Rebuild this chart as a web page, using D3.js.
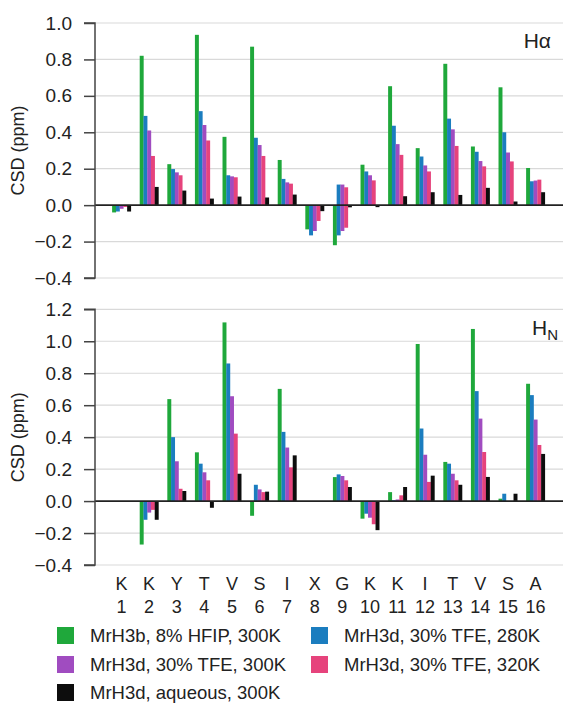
<!DOCTYPE html>
<html>
<head>
<meta charset="utf-8">
<script src="https://cdn.jsdelivr.net/npm/d3@7"></script>
<style>
  html, body { margin: 0; padding: 0; background: #fff; }
  svg { display: block; font-family: "Liberation Sans", Arial, Helvetica, sans-serif; }
</style>
</head>
<body>
<svg id="chart" width="563" height="704"></svg>
<script>
// Residues of the peptide
const residues = ["K", "K", "Y", "T", "V", "S", "I", "X", "G", "K", "K", "I", "T", "V", "S", "A"];
const positions = d3.range(1, 17);

// Sample conditions (one bar per condition in every residue group)
const seriesNames = [
  "MrH3b, 8% HFIP, 300K",
  "MrH3d, 30% TFE, 280K",
  "MrH3d, 30% TFE, 300K",
  "MrH3d, 30% TFE, 320K",
  "MrH3d, aqueous, 300K"
];
const seriesColors = ["#1fa83b", "#1b7dbf", "#a04cc0", "#e6437c", "#0d0d0d"];

// Hα chemical shift deviations (ppm)
const haHfip300 = [-0.04, 0.82, 0.225, 0.935, 0.375, 0.87, 0.248, -0.133, -0.22, 0.222, 0.653, 0.313, 0.776, 0.322, 0.647, 0.204];
const haTfe280  = [-0.035, 0.49, 0.198, 0.516, 0.164, 0.37, 0.144, -0.166, 0.113, 0.185, 0.436, 0.267, 0.475, 0.293, 0.40, 0.131];
const haTfe300  = [-0.02, 0.41, 0.18, 0.44, 0.158, 0.33, 0.125, -0.142, 0.113, 0.164, 0.335, 0.218, 0.416, 0.242, 0.289, 0.135];
const haTfe320  = [-0.01, 0.27, 0.164, 0.355, 0.153, 0.27, 0.118, -0.087, 0.098, 0.136, 0.276, 0.185, 0.325, 0.213, 0.24, 0.14];
const haAq300   = [-0.035, 0.10, 0.08, 0.036, 0.047, 0.042, 0.058, -0.033, -0.012, -0.011, 0.049, 0.071, 0.056, 0.095, 0.02, 0.071];

// Second Hα of Gly 9 (glycine carries two α protons)
const glyHa2 = [null, -0.166, -0.142, -0.124, null];

// HN chemical shift deviations (ppm); null = no amide signal
const hnHfip300 = [null, -0.272, 0.638, 0.305, 1.118, -0.092, 0.702, null, 0.15, -0.11, 0.056, 0.983, 0.245, 1.077, 0.015, 0.734];
const hnTfe280  = [null, -0.117, 0.40, 0.234, 0.861, 0.102, 0.433, null, 0.167, -0.079, 0.005, 0.454, 0.234, 0.688, 0.046, 0.663];
const hnTfe300  = [null, -0.072, 0.249, 0.18, 0.656, 0.073, 0.335, null, 0.157, -0.104, 0.01, 0.29, 0.171, 0.516, 0, 0.51];
const hnTfe320  = [null, -0.055, 0.077, 0.13, 0.422, 0.056, 0.211, null, 0.13, -0.145, 0.036, 0.12, 0.13, 0.307, 0, 0.351];
const hnAq300   = [null, -0.117, 0.063, -0.042, 0.171, 0.059, 0.286, null, 0.088, -0.182, 0.088, 0.159, 0.102, 0.151, 0.046, 0.295];

const haTicks = [-0.4, -0.2, 0.0, 0.2, 0.4, 0.6, 0.8, 1.0];
const hnTicks = [-0.4, -0.2, 0.0, 0.2, 0.4, 0.6, 0.8, 1.0, 1.2];

const haSeries = [haHfip300, haTfe280, haTfe300, haTfe320, haAq300];
const hnSeries = [hnHfip300, hnTfe280, hnTfe300, hnTfe320, hnAq300];

const svg = d3.select("#chart");
const axisX = 95;
const rightEdge = 563;

const x = d3.scaleBand()
  .domain(positions)
  .range([107.7, 549.3])
  .paddingInner(0.32)
  .paddingOuter(0.16);

const xs = d3.scaleBand()
  .domain(d3.range(seriesNames.length))
  .range([0, x.bandwidth()]);

function panel(values, ticks, domain, range, extra) {
  const y = d3.scaleLinear().domain(domain).range(range);
  const g = svg.append("g");

  // horizontal grid
  g.append("g").selectAll("line").data(ticks.filter(t => t !== 0)).join("line")
    .attr("x1", axisX).attr("x2", rightEdge)
    .attr("y1", d => y(d)).attr("y2", d => y(d))
    .attr("stroke", "#d9d9d9").attr("stroke-width", 1.2);

  // bars
  const rows = [];
  values.forEach((arr, si) => arr.forEach((v, i) => {
    if (v !== null) rows.push({ s: si, p: positions[i], v });
  }));
  if (extra) extra.forEach(e => rows.push(e));

  g.append("g").selectAll("rect").data(rows).join("rect")
    .attr("x", d => x(d.p) + xs(d.s))
    .attr("width", xs.bandwidth() + 0.2)
    .attr("y", d => y(Math.max(0, d.v)))
    .attr("height", d => Math.abs(y(d.v) - y(0)))
    .attr("fill", d => seriesColors[d.s]);

  // zero line
  g.append("line")
    .attr("x1", axisX).attr("x2", rightEdge)
    .attr("y1", y(0)).attr("y2", y(0))
    .attr("stroke", "#222").attr("stroke-width", 1.7);

  // y axis
  const axis = d3.axisLeft(y).tickValues(ticks).tickSize(11).tickPadding(12)
    .tickFormat(d => d3.format(".1f")(d).replace("-", "\u2212"));
  const ag = g.append("g").attr("transform", `translate(${axisX},0)`).call(axis);
  ag.select(".domain").attr("stroke", "#444").attr("stroke-width", 1.5)
    .attr("d", `M-11,${y(domain[1])}H0V${y(domain[0])}H-11`);
  ag.selectAll(".tick line").attr("stroke", "#444").attr("stroke-width", 1.5);
  ag.selectAll(".tick text").attr("font-size", 19).attr("fill", "#222")
    .attr("font-family", "'Liberation Sans', Arial, sans-serif");

  // axis title
  g.append("text")
    .attr("transform", `translate(24,${(range[0] + range[1]) / 2}) rotate(-90)`)
    .attr("text-anchor", "middle")
    .attr("font-size", 18).attr("fill", "#222")
    .text("CSD (ppm)");
  return { g, y };
}

const gly = glyHa2.map((v, s) => ({ s, p: 9, v })).filter(d => d.v !== null);
const haPanel = panel(haSeries, haTicks, [-0.4, 1.0], [278, 23], gly);
const hnPanel = panel(hnSeries, hnTicks, [-0.4, 1.2], [565, 309.3], null);

// panel labels
haPanel.g.append("text").attr("x", 551).attr("y", 48).attr("text-anchor", "end")
  .attr("font-size", 21).attr("fill", "#222").text("H\u03b1");
const hn = hnPanel.g.append("text").attr("x", 532).attr("y", 335)
  .attr("font-size", 21).attr("fill", "#222");
hn.append("tspan").text("H");
hn.append("tspan").attr("font-size", 15).attr("dy", 5).text("N");

// residue labels
const lab = svg.append("g").attr("font-size", 18).attr("fill", "#222").attr("text-anchor", "middle");
lab.selectAll("text.res").data(positions).join("text").attr("class", "res")
  .attr("x", d => x(d) + x.bandwidth() / 2).attr("y", 590)
  .text((d, i) => residues[i]);
lab.selectAll("text.num").data(positions).join("text").attr("class", "num")
  .attr("x", d => x(d) + x.bandwidth() / 2).attr("y", 613)
  .text(d => d);

// legend
const legendPos = [[57, 627], [311, 627], [57, 656], [311, 656], [57, 684]];
const lg = svg.append("g");
seriesNames.forEach((name, s) => {
  const [lx, ly] = legendPos[s];
  lg.append("rect").attr("x", lx).attr("y", ly).attr("width", 17).attr("height", 17)
    .attr("fill", seriesColors[s]);
  lg.append("text").attr("x", lx + 33).attr("y", ly + 15)
    .attr("font-size", 18.5).attr("fill", "#222").text(name);
});
</script>
</body>
</html>
